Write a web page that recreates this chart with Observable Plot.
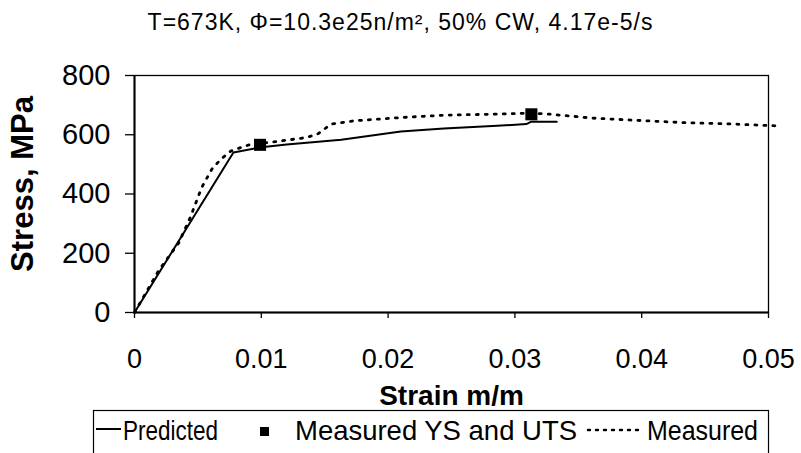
<!DOCTYPE html>
<html>
<head>
<meta charset="utf-8">
<script src="https://cdn.jsdelivr.net/npm/d3@7"></script>
<script src="https://cdn.jsdelivr.net/npm/@observablehq/plot@0.6"></script>
<style>
  html, body { margin: 0; padding: 0; background: #fff; overflow: hidden; }
  #wrap { position: relative; width: 801px; height: 453px; font-family: "Liberation Sans", Arial, sans-serif; color: #000; }
  #title { position: absolute; left: 0; top: 0; width: 801px; height: 44px; line-height: 44px;
           text-align: center; font-size: 23px; letter-spacing: 1px; }
  #chart { position: absolute; left: 0; top: 44px; }
  #legend { position: absolute; left: 0; top: 400px; }
</style>
</head>
<body>
<div id="wrap">
  <div id="title">T=673K, Φ=10.3e25n/m², 50% CW, 4.17e-5/s</div>
  <div id="chart"></div>
  <svg id="legend" width="801" height="53"></svg>
</div>
<script>
// Predicted stress-strain curve
const predStrain = [0, 0.0078, 0.0100, 0.0120, 0.0163, 0.0210, 0.0244, 0.0286, 0.0309, 0.0313, 0.0333];
const predStress = [0, 540, 558, 567, 583, 611, 621, 630, 636, 644, 644];

// Measured stress-strain curve
const measStrain = [0, 0.0019, 0.0035, 0.0044, 0.0053, 0.0061, 0.0068, 0.0076, 0.0084, 0.0092, 0.0112, 0.0136, 0.0145, 0.0155, 0.0173, 0.0210, 0.0244, 0.0289, 0.0312, 0.0326, 0.0362, 0.0394, 0.0433, 0.0473, 0.0506];
const measStress = [0, 141, 236, 321, 422, 484, 517, 545, 557, 568, 577, 591, 604, 636, 647, 658, 666, 670, 673, 670, 656, 649, 641, 636, 630];

// Measured yield strength and ultimate tensile strength
const ysUtsStrain = [0.0099, 0.0313];
const ysUtsStress = [566, 669];

// Axis ticks and labels
const xTicks = [0, 0.01, 0.02, 0.03, 0.04, 0.05];
const yTicks = [0, 200, 400, 600, 800];
const xLabel = "Strain m/m";
const yLabel = "Stress, MPa";
const legendLabels = ["Predicted", "Measured YS and UTS", "Measured"];

const pred = predStrain.map((s, i) => ({strain: s, stress: predStress[i]}));
const meas = measStrain.map((s, i) => ({strain: s, stress: measStress[i]}));
const pts = ysUtsStrain.map((s, i) => ({strain: s, stress: ysUtsStress[i]}));

const font = '"Liberation Sans", Arial, sans-serif';

const chart = Plot.plot({
  width: 801,
  height: 364,
  marginLeft: 134,
  marginRight: 33,
  marginTop: 31,
  marginBottom: 96,
  style: {fontFamily: font, color: "#000", background: "#fff", overflow: "visible"},
  x: {domain: [0, 0.05]},
  y: {domain: [0, 800]},
  marks: [
    Plot.frame({stroke: "#000", strokeWidth: 1.3}),
    Plot.axisX({ticks: xTicks, tickSize: 6, tickPadding: 30, fontSize: 27, tickFormat: d => String(d), label: null, strokeWidth: 1.3}),
    Plot.axisY({ticks: yTicks, tickSize: 9, tickPadding: 15, fontSize: 29, label: null, strokeWidth: 1.3}),
    Plot.ruleX([0], {stroke: "#000", strokeWidth: 2}),
    Plot.ruleY([0], {stroke: "#000", strokeWidth: 2}),
    Plot.line(pred, {x: "strain", y: "stress", stroke: "#000", strokeWidth: 2}),
    Plot.line(meas, {x: "strain", y: "stress", stroke: "#000", strokeWidth: 2.8, strokeDasharray: "2,7", strokeLinecap: "round"}),
    Plot.dot(pts, {x: "strain", y: "stress", symbol: "square", fill: "#000", r: 6.8}),
    Plot.text([xLabel], {frameAnchor: "bottom", lineAnchor: "bottom", dy: 92, fontSize: 28, fontWeight: "bold", fill: "#000"}),
    Plot.text([yLabel], {frameAnchor: "left", textAnchor: "middle", rotate: -90, dx: -111, dy: -10, fontSize: 31, fontWeight: "bold", fill: "#000"})
  ]
});
document.getElementById("chart").appendChild(chart);

// Legend row below the chart
const lg = d3.select("#legend");
lg.append("rect").attr("x", 93.5).attr("y", 10.5).attr("width", 675).attr("height", 60)
  .attr("fill", "none").attr("stroke", "#000").attr("stroke-width", 1.2);
lg.append("line").attr("x1", 96).attr("x2", 121).attr("y1", 29).attr("y2", 29)
  .attr("stroke", "#000").attr("stroke-width", 2);
lg.append("rect").attr("x", 260).attr("y", 27).attr("width", 9).attr("height", 9).attr("fill", "#000");
lg.append("line").attr("x1", 588).attr("x2", 643).attr("y1", 30).attr("y2", 30)
  .attr("stroke", "#000").attr("stroke-width", 2.4).attr("stroke-dasharray", "2,6").attr("stroke-linecap", "round");
const legendText = [
  {x: 123, w: 95, t: legendLabels[0]},
  {x: 295, w: 282, t: legendLabels[1]},
  {x: 647, w: 111, t: legendLabels[2]}
];
legendText.forEach(d => {
  lg.append("text").attr("x", d.x).attr("y", 40).attr("font-family", font).attr("font-size", 28)
    .attr("textLength", d.w).attr("lengthAdjust", "spacingAndGlyphs").attr("fill", "#000").text(d.t);
});
</script>
</body>
</html>
